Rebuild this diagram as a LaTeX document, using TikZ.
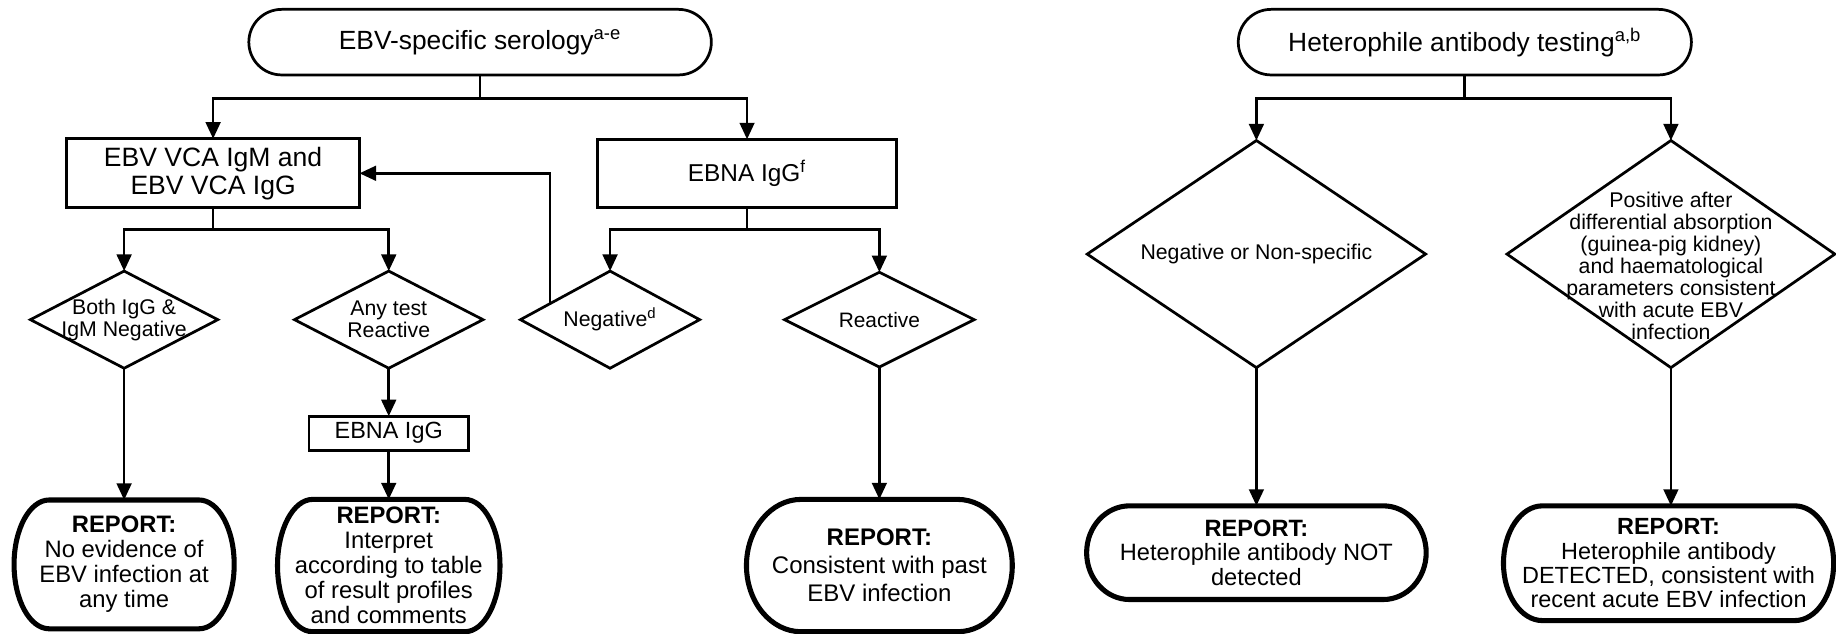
\documentclass[tikz,border=0pt]{standalone}
\usepackage{fontspec}
\setmainfont{Liberation Sans}
\usetikzlibrary{shapes.geometric,shapes.misc,arrows.meta,calc}
\newcommand\repborder[3]{%
  \draw[repline] ($(#1.north west)+(#2,0)$) -- ($(#1.north east)+(-#2,0)$)
    arc[start angle=90,end angle=0,x radius=#2,y radius=#3]
    -- ($(#1.south east)+(0,#3)$)
    arc[start angle=0,end angle=-90,x radius=#2,y radius=#3]
    -- ($(#1.south west)+(#2,0)$)
    arc[start angle=-90,end angle=-180,x radius=#2,y radius=#3]
    -- ($(#1.north west)+(0,-#3)$)
    arc[start angle=180,end angle=90,x radius=#2,y radius=#3] -- cycle;}
\begin{document}
\begin{tikzpicture}[x=0.6pt,y=-0.6pt,
  every node/.style={inner sep=0pt, outer sep=0pt},
  line/.style={line width=1.4pt},
  arr/.style={line width=1.4pt,-{Triangle[length=8.5pt,width=7.5pt]}},
  term/.style={draw, line width=1.4pt, rounded rectangle, minimum height=33.6pt, font=\fontsize{13.5}{14}\selectfont},
  box/.style={draw, line width=1.4pt, rectangle, align=center},
  dia/.style={draw, line width=1.4pt, diamond},
  diatext/.style={font=\fontsize{10.9}{11.2}\selectfont, align=center},
  rep/.style={align=center, font=\fontsize{12.2}{12.8}\selectfont},
  repline/.style={line width=2.6pt, line join=round},
]
\useasboundingbox (0,0) rectangle (1568,541);

% ---------- EBV-specific serology ----------
\node[term, minimum width=237pt] (T1) at (410,36) {EBV-specific serology\textsuperscript{a-e}};
\node[box, minimum width=150pt, minimum height=35.4pt, font=\fontsize{13.6}{14.2}\selectfont] (A) at (182,148) {EBV VCA IgM and\\EBV VCA IgG};
\node[box, minimum width=153pt, minimum height=34.8pt, font=\fontsize{12.5}{13}\selectfont] (B) at (638,148) {EBNA IgG\textsuperscript{f}};

\node[dia, minimum width=96pt, minimum height=49.8pt, label={[diatext]center:{Both IgG \&\\IgM Negative}}] (D1) at (106,273) {};
\node[dia, minimum width=96.6pt, minimum height=49.8pt, label={[diatext]center:{Any test\\Reactive}}] (D2) at (332,273) {};
\node[dia, minimum width=91.8pt, minimum height=49.8pt, label={[diatext]center:{Negative\textsuperscript{d}}}] (D3) at (521,273) {};
\node[dia, minimum width=97.2pt, minimum height=48.6pt, label={[font=\fontsize{10.7}{11}\selectfont]center:{Reactive}}] (D4) at (751,273) {};

\node[box, minimum width=81.6pt, minimum height=17.4pt, font=\fontsize{12}{12.5}\selectfont] (E) at (332,370) {EBNA IgG};

\node[rep, minimum width=112.8pt, minimum height=66pt] (R1) at (106,482) {\textbf{REPORT:}\\No evidence of\\EBV infection at\\any time};
\node[rep, minimum width=114pt, minimum height=67.8pt] (R2) at (332,483) {\textbf{REPORT:}\\Interpret\\according to table\\of result profiles\\and comments};
\node[rep, minimum width=136.2pt, minimum height=67.8pt, font=\fontsize{12.3}{14.3}\selectfont] (R3) at (751,483) {\textbf{REPORT:}\\Consistent with past\\EBV infection};
\repborder{R1}{18pt}{33pt}
\repborder{R2}{18pt}{33.9pt}
\repborder{R3}{28pt}{33.9pt}

\coordinate (j1) at (T1.south |- 0,84);
\draw[line] (T1.south) -- (j1);
\draw[arr] (j1) -| (A.north);
\draw[arr] (j1) -| (B.north);

\coordinate (j2) at (A.south |- 0,196);
\draw[line] (A.south) -- (j2);
\draw[arr] (j2) -| (D1.north);
\draw[arr] (j2) -| (D2.north);

\coordinate (j3) at (B.south |- 0,196);
\draw[line] (B.south) -- (j3);
\draw[arr] (j3) -| (D3.north);
\draw[arr] (j3) -| (D4.north);

\coordinate (fb) at ($(D3.west)!0.33!(D3.north)$);
\draw[arr] (fb) |- (A.east);

\draw[arr] (D1.south) -- (D1.south |- R1.north);
\draw[arr] (D2.south) -- (E.north);
\draw[arr] (E.south) -- (E.south |- R2.north);
\draw[arr] (D4.south) -- (D4.south |- R3.north);

% ---------- Heterophile antibody testing ----------
\node[term, minimum width=232.2pt] (T2) at (1251,36) {Heterophile antibody testing\textsuperscript{a,b}};
\node[dia, minimum width=173.4pt, minimum height=116.4pt, label={[diatext]center:{Negative or Non-specific}}] (D5) at (1073,217) {};
\node[dia, minimum width=168pt, minimum height=116.4pt, label={[diatext, font=\fontsize{10.9}{11.3}\selectfont, yshift=-6pt]center:{Positive after\\differential absorption\\(guinea-pig kidney)\\and haematological\\parameters consistent\\with acute EBV\\infection}}] (D6) at (1427,217) {};

\node[rep, minimum width=174pt, minimum height=48pt, font=\fontsize{12.1}{12.5}\selectfont] (R4) at (1073,472) {\textbf{REPORT:}\\Heterophile antibody NOT\\detected};
\node[rep, minimum width=169.2pt, minimum height=58.8pt, font=\fontsize{12}{12.5}\selectfont] (R5) at (1425,481) {\textbf{REPORT:}\\Heterophile antibody\\DETECTED, consistent with\\recent acute EBV infection};
\repborder{R4}{22pt}{24pt}
\repborder{R5}{20pt}{29.4pt}

\coordinate (j4) at (T2.south |- 0,84);
\draw[line] (T2.south) -- (j4);
\draw[arr] (j4) -| (D5.north);
\draw[arr] (j4) -| (D6.north);

\draw[arr] (D5.south) -- (D5.south |- R4.north);
\draw[arr] (D6.south) -- (D6.south |- R5.north);
\end{tikzpicture}
\end{document}
